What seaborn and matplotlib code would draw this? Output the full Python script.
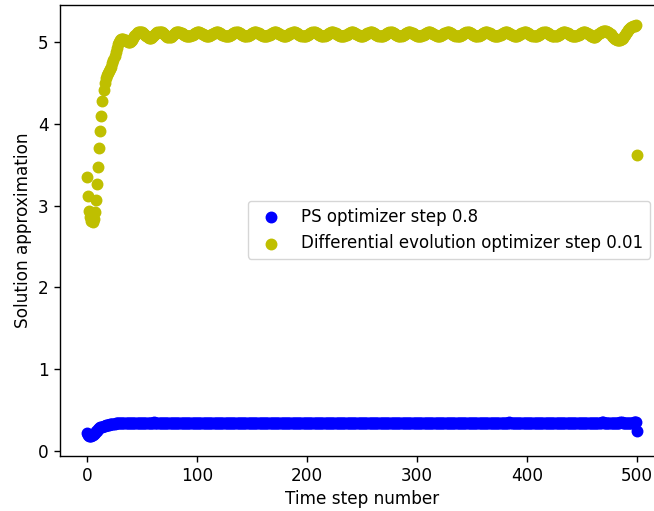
import numpy as np
import matplotlib
matplotlib.use("Agg")
import matplotlib.pyplot as plt
import seaborn as sns

# solution approximation per time step (0..500)
ps_values = [
    0.22, 0.20, 0.19, 0.19, 0.19, 0.20, 0.21, 0.22, 0.24, 0.25,
    0.27, 0.28, 0.29, 0.30, 0.30, 0.31, 0.31, 0.32, 0.32, 0.32,
    0.32, 0.33, 0.33, 0.33, 0.33, 0.33, 0.34, 0.34, 0.34, 0.34,
    0.34, 0.345, 0.345, 0.345, 0.345, 0.345, 0.345, 0.345, 0.345, 0.345,
    0.345, 0.346, 0.347, 0.348, 0.348, 0.347, 0.346, 0.345, 0.344, 0.343, 0.342, 0.342, 0.343, 0.344, 0.345, 0.346, 0.346,
    0.345, 0.346, 0.347, 0.348, 0.349, 0.348, 0.346, 0.345, 0.344, 0.343, 0.342, 0.342, 0.343, 0.344, 0.345, 0.346, 0.346,
    0.345, 0.346, 0.347, 0.348, 0.348, 0.347, 0.346, 0.345, 0.344, 0.343, 0.342, 0.342, 0.343, 0.344, 0.345, 0.346, 0.347,
    0.346, 0.347, 0.348, 0.348, 0.348, 0.347, 0.346, 0.345, 0.344, 0.343, 0.342, 0.342, 0.343, 0.344, 0.345, 0.346, 0.346,
    0.345, 0.346, 0.347, 0.348, 0.348, 0.347, 0.346, 0.345, 0.344, 0.343, 0.343, 0.342, 0.343, 0.344, 0.345, 0.346, 0.346,
    0.345, 0.346, 0.347, 0.348, 0.348, 0.347, 0.346, 0.345, 0.344, 0.343, 0.342, 0.342, 0.343, 0.344, 0.345, 0.346, 0.346,
    0.345, 0.346, 0.347, 0.347, 0.348, 0.347, 0.346, 0.345, 0.344, 0.343, 0.342, 0.342, 0.343, 0.344, 0.345, 0.345, 0.346,
    0.345, 0.346, 0.347, 0.348, 0.348, 0.347, 0.346, 0.345, 0.344, 0.343, 0.342, 0.342, 0.343, 0.344, 0.345, 0.346, 0.346,
    0.345, 0.346, 0.347, 0.348, 0.348, 0.348, 0.346, 0.345, 0.344, 0.343, 0.342, 0.342, 0.343, 0.344, 0.345, 0.346, 0.346,
    0.345, 0.346, 0.347, 0.348, 0.348, 0.347, 0.346, 0.345, 0.344, 0.343, 0.342, 0.342, 0.343, 0.344, 0.345, 0.346, 0.346,
    0.345, 0.346, 0.347, 0.348, 0.348, 0.347, 0.346, 0.345, 0.344, 0.344, 0.343, 0.342, 0.343, 0.344, 0.345, 0.346, 0.346,
    0.345, 0.346, 0.347, 0.348, 0.348, 0.347, 0.346, 0.345, 0.344, 0.343, 0.342, 0.342, 0.343, 0.344, 0.345, 0.346, 0.346,
    0.345, 0.346, 0.347, 0.348, 0.348, 0.347, 0.346, 0.345, 0.344, 0.343, 0.342, 0.342, 0.343, 0.344, 0.345, 0.346, 0.346,
    0.346, 0.347, 0.347, 0.348, 0.348, 0.347, 0.346, 0.345, 0.344, 0.343, 0.342, 0.342, 0.343, 0.344, 0.345, 0.346, 0.346,
    0.345, 0.346, 0.347, 0.348, 0.348, 0.347, 0.346, 0.345, 0.344, 0.343, 0.342, 0.342, 0.343, 0.344, 0.345, 0.346, 0.346,
    0.345, 0.346, 0.347, 0.348, 0.348, 0.347, 0.346, 0.345, 0.344, 0.343, 0.342, 0.343, 0.343, 0.344, 0.345, 0.346, 0.346,
    0.345, 0.346, 0.347, 0.348, 0.348, 0.347, 0.346, 0.345, 0.344, 0.343, 0.342, 0.342, 0.343, 0.344, 0.345, 0.346, 0.346,
    0.345, 0.346, 0.347, 0.348, 0.348, 0.347, 0.346, 0.345, 0.344, 0.343, 0.342, 0.342, 0.343, 0.344, 0.345, 0.346, 0.347,
    0.345, 0.346, 0.347, 0.348, 0.348, 0.347, 0.346, 0.345, 0.344, 0.343, 0.342, 0.342, 0.343, 0.344, 0.345, 0.346, 0.346,
    0.345, 0.346, 0.347, 0.348, 0.348, 0.347, 0.346, 0.345, 0.344, 0.343, 0.342, 0.342, 0.343, 0.344, 0.345, 0.346, 0.346,
    0.345, 0.346, 0.347, 0.348, 0.349, 0.347, 0.346, 0.345, 0.344, 0.343, 0.342, 0.342, 0.343, 0.344, 0.345, 0.346, 0.346,
    0.345, 0.346, 0.347, 0.348, 0.348, 0.347, 0.346, 0.345, 0.344, 0.343, 0.342, 0.342, 0.343, 0.344, 0.345, 0.346, 0.346,
    0.345, 0.346, 0.347, 0.348, 0.348, 0.347, 0.346, 0.345, 0.344, 0.343, 0.342, 0.342, 0.343, 0.344, 0.345, 0.346, 0.346,
    0.345, 0.346, 0.347, 0.348, 0.348, 0.347, 0.346, 0.345, 0.344, 0.343, 0.342, 0.342, 0.343, 0.344, 0.345, 0.346, 0.346,
    0.345, 0.346, 0.347, 0.347, 0.348, 0.347, 0.346, 0.345, 0.344, 0.343, 0.342, 0.342, 0.343, 0.344, 0.345, 0.346, 0.346,
    0.346, 0.347, 0.348, 0.349, 0.349, 0.348, 0.347, 0.346, 0.345, 0.344, 0.343, 0.343, 0.344, 0.345, 0.346, 0.347, 0.347,
    0.346, 0.347, 0.348, 0.349, 0.349, 0.348, 0.347, 0.346, 0.345, 0.344, 0.343, 0.343, 0.344, 0.345, 0.346,
    0.350, 0.355, 0.360, 0.24,
]

de_values = [
    3.35, 3.12, 2.94, 2.86, 2.81, 2.80, 2.84, 2.92, 3.07, 3.26,
    3.47, 3.70, 3.91, 4.10, 4.28, 4.41, 4.50, 4.56, 4.60, 4.62,
    4.64, 4.67, 4.70, 4.74, 4.78, 4.83, 4.88, 4.93, 4.97, 5.00,
    5.02, 5.04, 5.04, 5.04, 5.03, 5.02, 5.01, 5.00, 5.00, 5.00,
    5.01, 5.03, 5.05, 5.07, 5.09, 5.11, 5.12, 5.125,
    5.125, 5.123, 5.116, 5.106, 5.094, 5.081, 5.069, 5.059, 5.052, 5.050, 5.052, 5.059, 5.069, 5.081, 5.094, 5.106, 5.116, 5.123,
    5.125, 5.123, 5.117, 5.107, 5.096, 5.084, 5.073, 5.065, 5.061, 5.061, 5.065, 5.073, 5.084, 5.096, 5.107, 5.117, 5.123,
    5.121, 5.118, 5.114, 5.108, 5.099, 5.091, 5.083, 5.076, 5.072, 5.070, 5.072, 5.076, 5.083, 5.091, 5.099, 5.108, 5.114, 5.118,
    5.120, 5.118, 5.113, 5.106, 5.097, 5.088, 5.080, 5.074, 5.070, 5.070, 5.074, 5.080, 5.088, 5.097, 5.106, 5.113, 5.118,
    5.120, 5.118, 5.114, 5.108, 5.099, 5.091, 5.083, 5.076, 5.072, 5.071, 5.072, 5.076, 5.083, 5.091, 5.099, 5.108, 5.114, 5.118,
    5.120, 5.118, 5.113, 5.106, 5.097, 5.088, 5.080, 5.074, 5.071, 5.070, 5.074, 5.080, 5.088, 5.097, 5.106, 5.113, 5.118,
    5.120, 5.119, 5.114, 5.108, 5.099, 5.091, 5.083, 5.076, 5.072, 5.070, 5.072, 5.076, 5.083, 5.091, 5.099, 5.108, 5.114, 5.118,
    5.120, 5.118, 5.113, 5.106, 5.097, 5.088, 5.080, 5.074, 5.070, 5.070, 5.074, 5.080, 5.088, 5.097, 5.106, 5.113, 5.118,
    5.120, 5.118, 5.114, 5.108, 5.099, 5.091, 5.083, 5.076, 5.072, 5.070, 5.072, 5.076, 5.083, 5.091, 5.099, 5.108, 5.114, 5.119,
    5.121, 5.118, 5.113, 5.106, 5.097, 5.088, 5.080, 5.074, 5.070, 5.070, 5.074, 5.080, 5.088, 5.097, 5.106, 5.113, 5.118,
    5.120, 5.118, 5.114, 5.108, 5.099, 5.091, 5.083, 5.076, 5.072, 5.070, 5.072, 5.076, 5.083, 5.091, 5.099, 5.108, 5.114, 5.118,
    5.120, 5.118, 5.113, 5.106, 5.097, 5.088, 5.080, 5.074, 5.070, 5.071, 5.074, 5.080, 5.088, 5.097, 5.106, 5.113, 5.118,
    5.120, 5.118, 5.114, 5.108, 5.099, 5.091, 5.083, 5.076, 5.072, 5.070, 5.072, 5.076, 5.083, 5.091, 5.099, 5.108, 5.114, 5.118,
    5.120, 5.118, 5.113, 5.106, 5.097, 5.088, 5.080, 5.074, 5.070, 5.070, 5.074, 5.080, 5.088, 5.097, 5.106, 5.113, 5.119,
    5.120, 5.118, 5.114, 5.108, 5.099, 5.091, 5.083, 5.076, 5.072, 5.070, 5.072, 5.076, 5.083, 5.091, 5.099, 5.108, 5.114, 5.118,
    5.120, 5.118, 5.113, 5.106, 5.097, 5.088, 5.080, 5.074, 5.070, 5.070, 5.074, 5.080, 5.088, 5.097, 5.106, 5.113, 5.118,
    5.121, 5.119, 5.114, 5.108, 5.099, 5.091, 5.083, 5.076, 5.072, 5.070, 5.072, 5.076, 5.083, 5.091, 5.099, 5.108, 5.114, 5.118,
    5.120, 5.118, 5.113, 5.106, 5.097, 5.088, 5.080, 5.074, 5.070, 5.070, 5.074, 5.080, 5.088, 5.097, 5.106, 5.113, 5.118,
    5.120, 5.118, 5.114, 5.108, 5.099, 5.091, 5.083, 5.076, 5.072, 5.070, 5.072, 5.076, 5.083, 5.091, 5.099, 5.108, 5.114, 5.118,
    5.120, 5.118, 5.113, 5.106, 5.097, 5.088, 5.080, 5.074, 5.070, 5.070, 5.074, 5.080, 5.088, 5.097, 5.106, 5.113, 5.118,
    5.120, 5.118, 5.114, 5.108, 5.099, 5.091, 5.083, 5.076, 5.072, 5.070, 5.072, 5.076, 5.083, 5.091, 5.099, 5.108, 5.114, 5.118,
    5.120, 5.118, 5.114, 5.108, 5.099, 5.091, 5.083, 5.076, 5.072, 5.070, 5.072, 5.076, 5.083, 5.091, 5.099, 5.108, 5.114, 5.118,
    5.120, 5.118, 5.114, 5.108, 5.099, 5.091, 5.083, 5.076, 5.072, 5.070, 5.072, 5.076, 5.083, 5.091, 5.099, 5.108, 5.114, 5.118,
    5.120, 5.118, 5.112, 5.104, 5.094, 5.084, 5.075, 5.068, 5.064, 5.062, 5.064, 5.070, 5.080, 5.092, 5.105, 5.118, 5.128, 5.136,
    5.140, 5.139, 5.135, 5.128, 5.118, 5.106, 5.093, 5.079, 5.065, 5.052,
    5.040, 5.031, 5.024, 5.020, 5.021, 5.027, 5.038, 5.053, 5.070, 5.089,
    5.108, 5.126, 5.143, 5.158, 5.171, 5.182, 5.190, 5.196, 5.200, 5.205,
    3.62,
]

ps_label = "PS optimizer step 0.8"
de_label = "Differential evolution optimizer step 0.01"

plt.rcParams['font.family'] = ['DejaVu Sans']
plt.rcParams['font.size'] = 12.2

fig = plt.figure(figsize=(6.54, 5.11), dpi=100)
# axes runs past the right edge of the picture, as in the reference crop
ax = fig.add_axes([0.091, 0.1076, 0.925, 0.8832])

sns.scatterplot(x=np.arange(len(ps_values)), y=ps_values, color='b', edgecolor='b',
                s=54, linewidth=1.2, label=ps_label, ax=ax)
sns.scatterplot(x=np.arange(len(de_values)), y=de_values, color='y', edgecolor='y',
                s=54, linewidth=1.2, label=de_label, ax=ax)

ax.set_xlabel('Time step number', fontsize=12.2)
ax.set_ylabel('Solution approximation', fontsize=12.2)
ax.tick_params(axis='both', labelsize=12.2, length=4.3, width=1.0)
for sp in ax.spines.values():
    sp.set_linewidth(1.0)

ax.legend(loc='center right', bbox_to_anchor=(650 / 654, 1 - 230 / 511),
          bbox_transform=fig.transFigure, borderaxespad=0, fontsize=12)

plt.savefig('out.png', dpi=100)
